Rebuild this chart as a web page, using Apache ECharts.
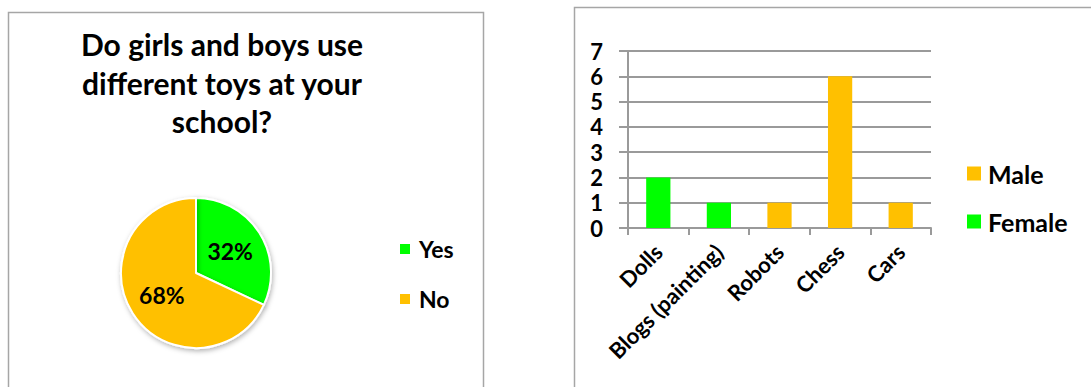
<!DOCTYPE html>
<html>
<head>
<meta charset="utf-8">
<script src="https://cdn.jsdelivr.net/npm/echarts@6/dist/echarts.min.js"></script>
<style>
  html, body { margin: 0; padding: 0; background: #fff; }
  #chart { width: 1091px; height: 387px; }
</style>
</head>
<body>
<div id="chart"></div>
<script>
// Survey answers (percent of pupils)
const pieTitle = 'Do girls and boys use\ndifferent toys at your\nschool?';
const answerNames = ['Yes', 'No'];
const answerValues = [32, 68];
const answerColors = ['#00ff00', '#ffc000'];

// Toys chosen, split by gender
const toyCategories = ['Dolls', 'Blogs (painting)', 'Robots', 'Chess', 'Cars'];
const maleCounts = [null, null, 1, 6, 1];
const femaleCounts = [2, 1, null, null, null];
const yTicks = { min: 0, max: 7, interval: 1 };

const FONT = 'Lato, "Open Sans", sans-serif';
const GRID_GRAY = '#9a9a9a';

const chart = echarts.init(document.getElementById('chart'), null, { renderer: 'svg' });

chart.setOption({
  animation: false,
  backgroundColor: '#ffffff',
  textStyle: { fontFamily: FONT, fontWeight: 'bold', color: '#000' },
  graphic: [
    { type: 'rect', shape: { x: 8.5, y: 12.5, width: 475, height: 420 },
      style: { fill: 'none', stroke: '#a6a6a6', lineWidth: 1.5 }, silent: true },
    { type: 'rect', shape: { x: 574.5, y: 7.5, width: 540, height: 420 },
      style: { fill: 'none', stroke: '#a6a6a6', lineWidth: 1.5 }, silent: true },
    { type: 'text', x: 222, y: 25,
      style: { text: pieTitle, textAlign: 'center', fontFamily: FONT, fontWeight: 'bold',
               fontSize: 30, lineHeight: 38.5, fill: '#000' } }
  ],
  legend: [
    {
      orient: 'vertical', left: 398, top: 237.5, padding: 0,
      itemWidth: 12, itemHeight: 12, itemGap: 27, icon: 'rect',
      data: answerNames,
      textStyle: { fontFamily: FONT, fontWeight: 'bold', fontSize: 23, lineHeight: 22, color: '#000', padding: [0, 0, 0, 3] }
    },
    {
      orient: 'vertical', left: 967, top: 161, padding: 0,
      itemWidth: 14, itemHeight: 14, itemGap: 23, icon: 'rect',
      data: ['Male', 'Female'],
      textStyle: { fontFamily: FONT, fontWeight: 'bold', fontSize: 25, lineHeight: 22, color: '#000', padding: [0, 0, 0, 2] }
    }
  ],
  grid: { left: 628, right: 160, top: 51, bottom: 159, containLabel: false },
  xAxis: {
    type: 'category',
    data: toyCategories,
    boundaryGap: true,
    axisLine: { lineStyle: { color: GRID_GRAY, width: 2 } },
    axisTick: { show: true, length: 7, lineStyle: { color: GRID_GRAY, width: 2 } },
    axisLabel: { rotate: 45, margin: 20, fontFamily: FONT, fontWeight: 'bold', fontSize: 22, color: '#000', interval: 0 }
  },
  yAxis: {
    type: 'value',
    min: yTicks.min, max: yTicks.max, interval: yTicks.interval,
    axisLine: { show: true, lineStyle: { color: GRID_GRAY, width: 2 } },
    axisTick: { show: true, length: 9, lineStyle: { color: GRID_GRAY, width: 2 } },
    splitLine: { lineStyle: { color: GRID_GRAY, width: 2 } },
    axisLabel: { margin: 25, fontFamily: FONT, fontWeight: 'bold', fontSize: 22, lineHeight: 22, color: '#000' }
  },
  series: [
    {
      name: 'Yes-No', type: 'pie',
      center: [196, 273], radius: 75,
      startAngle: 90, clockwise: true,
      data: answerNames.map((n, i) => ({ name: n, value: answerValues[i], itemStyle: { color: answerColors[i] } })),
      itemStyle: { borderColor: '#fff', borderWidth: 2, shadowBlur: 5, shadowColor: 'rgba(0,0,0,0.3)', shadowOffsetX: 1, shadowOffsetY: 2 },
      label: { position: 'inside', formatter: '{c}%', fontFamily: FONT, fontWeight: 'bold', fontSize: 23, color: '#000' },
      labelLine: { show: false },
      emphasis: { disabled: true }
    },
    {
      name: 'Male', type: 'bar', stack: 'toys',
      data: maleCounts, barWidth: '40%',
      itemStyle: { color: '#ffc000' }
    },
    {
      name: 'Female', type: 'bar', stack: 'toys',
      data: femaleCounts, barWidth: '40%',
      itemStyle: { color: '#00ff00' }
    }
  ]
});
</script>
</body>
</html>
